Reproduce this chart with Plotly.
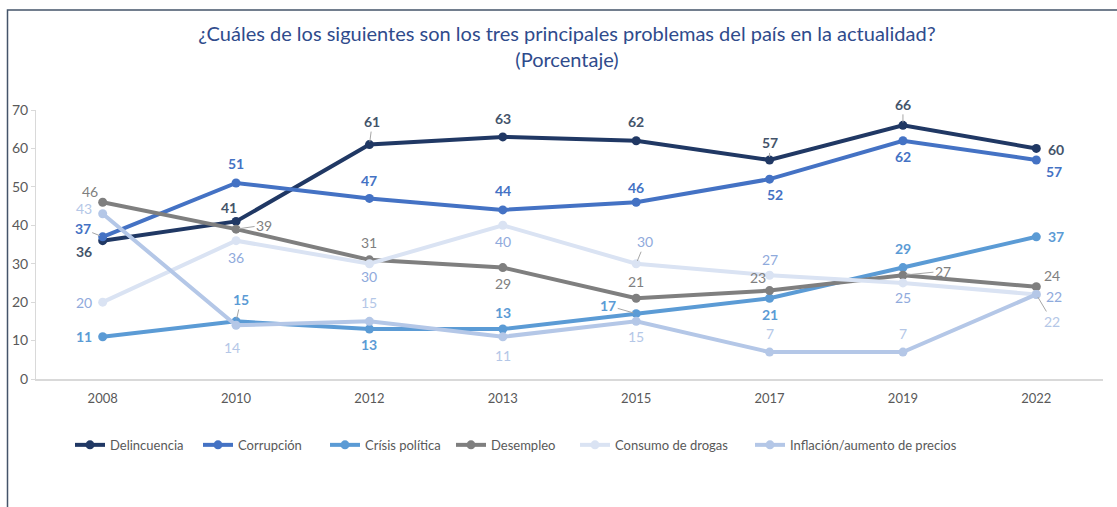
import plotly.graph_objects as go

years = ["2008", "2010", "2012", "2013", "2015", "2017", "2019", "2022"]
delincuencia = [36, 41, 61, 63, 62, 57, 66, 60]
corrupcion = [37, 51, 47, 44, 46, 52, 62, 57]
crisis_politica = [11, 15, 13, 13, 17, 21, 29, 37]
desempleo = [46, 39, 31, 29, 21, 23, 27, 24]
consumo_drogas = [20, 36, 30, 40, 30, 27, 25, 22]
inflacion = [43, 14, 15, 11, 15, 7, 7, 22]
y_ticks = [0, 10, 20, 30, 40, 50, 60, 70]

FONT = "Lato, Roboto, Arial"

series = [
    ("Delincuencia", delincuencia, "#203864", "#44546A", True),
    ("Corrupción", corrupcion, "#4472C4", "#4472C4", True),
    ("Crísis política", crisis_politica, "#5B9BD5", "#5B9BD5", True),
    ("Desempleo", desempleo, "#7F7F7F", "#7F7F7F", False),
    ("Consumo de drogas", consumo_drogas, "#DAE3F3", "#8FAADC", False),
    ("Inflación/aumento de precios", inflacion, "#B4C7E7", "#B4C7E7", False),
]

# label offsets in pixels (dx, dy; dy positive = down) and leader-line flags
label_offsets = [
    [(-19, 11), (-7, -14), (3, -23), (0, -18), (0, -19), (0, -17), (0, -21), (20, 1)],
    [(-20, -8), (0, -20), (0, -18), (0, -19), (0, -15), (5, 15), (0, 16), (18, 12)],
    [(-19, 0), (5, -22), (0, 15), (0, -17), (-28, -8), (0, 16), (0, -19), (20, 0)],
    [(-13, -11), (28, -4), (0, -17), (0, 16), (0, -17), (-12, -13), (40, -4), (16, -11)],
    [(-19, 0), (0, 17), (0, 13), (0, 16), (9, -22), (0, -16), (0, 15), (18, 2)],
    [(-19, -5), (-4, 22), (0, -19), (0, 19), (0, 15), (0, -19), (0, -19), (16, 27)],
]
leaders = [
    [0, 0, 1, 0, 0, 1, 1, 0],
    [1, 0, 0, 0, 0, 0, 0, 0],
    [0, 1, 0, 0, 1, 0, 0, 0],
    [0, 1, 0, 0, 0, 0, 1, 0],
    [0, 0, 0, 0, 1, 0, 0, 0],
    [0, 0, 0, 0, 0, 0, 0, 1],
]
# left pixel position of each legend entry
legend_px = [70, 198, 325, 451, 575, 750]

PLOT_L, PLOT_W = 36, 1067

fig = go.Figure()
annotations = []
legends = {}
for k, ((name, vals, lc, tc, bold), offs, lead) in enumerate(zip(series, label_offsets, leaders)):
    lname = "legend" if k == 0 else f"legend{k + 1}"
    fig.add_trace(go.Scatter(
        x=years, y=vals, name=name, mode="lines+markers",
        line=dict(color=lc, width=4),
        marker=dict(color=lc, size=9),
        legend=lname,
    ))
    legends[lname] = dict(
        orientation="h", x=(legend_px[k] - PLOT_L) / PLOT_W, y=-0.245,
        xanchor="left", yanchor="middle", bgcolor="rgba(0,0,0,0)",
        font=dict(family=FONT, size=13, color="#595959"), itemwidth=30,
    )
    for i, (v, (dx, dy), ld) in enumerate(zip(vals, offs, lead)):
        txt = f"<b>{v}</b>" if bold else str(v)
        annotations.append(dict(
            x=i, y=v, xref="x", yref="y", text=txt,
            showarrow=True, ax=dx, ay=dy, arrowhead=0, arrowwidth=1,
            arrowcolor="#A6A6A6" if ld else "rgba(255,255,255,0)", standoff=3,
            font=dict(family=FONT, size=14, color=tc),
        ))

fig.update_layout(
    width=1117, height=507,
    margin=dict(l=PLOT_L, r=14, t=110, b=128),
    paper_bgcolor="white", plot_bgcolor="white",
    font=dict(family=FONT, color="#595959", size=13),
    title=dict(
        text="¿Cuáles de los siguientes son los tres principales problemas del país en la actualidad?<br>(Porcentaje)",
        x=567 / 1117, xref="container", xanchor="center",
        y=1 - 41 / 507, yref="container", yanchor="middle",
        font=dict(family=FONT, size=20, color="#2F4B8C"),
    ),
    xaxis=dict(
        type="category", showgrid=False, showline=True, linecolor="#D9D9D9",
        linewidth=1.5, ticks="outside", ticklen=7, tickcolor="rgba(0,0,0,0)",
        tickfont=dict(size=13, color="#595959"),
        range=[-0.5, 7.5],
    ),
    yaxis=dict(
        range=[0, 70], tickvals=y_ticks, showgrid=False, showline=True,
        linecolor="#D9D9D9", linewidth=1, ticks="outside", ticklen=4,
        tickcolor="#D9D9D9", tickfont=dict(size=14, color="#595959"),
        zeroline=False,
    ),
    showlegend=True,
    annotations=annotations,
    shapes=[dict(
        type="rect", xref="paper", yref="paper",
        x0=(7.5 - PLOT_L) / PLOT_W, x1=1.1, y0=-0.6, y1=(379 - 10) / 269,
        line=dict(color="#44546A", width=1.5), fillcolor="rgba(0,0,0,0)",
        layer="below",
    )],
    **legends,
)

fig.write_html("out.html", config={"displayModeBar": False},
               post_script="document.body.style.margin='0';")
